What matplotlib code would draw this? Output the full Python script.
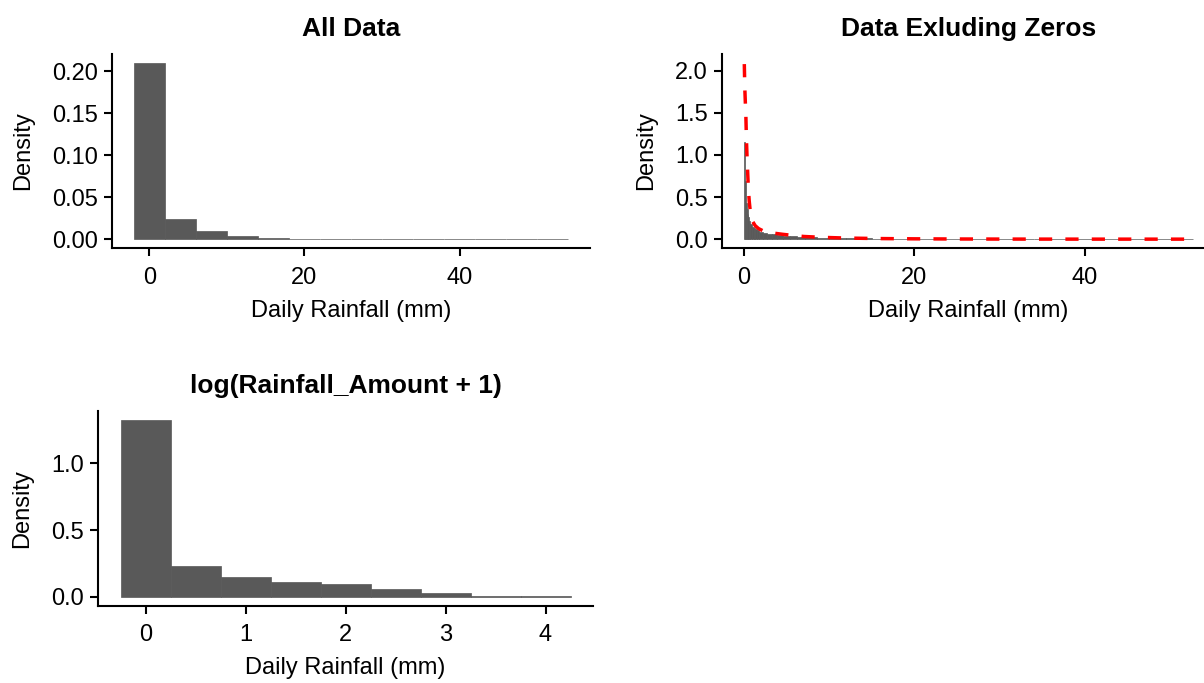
import matplotlib
matplotlib.use("Agg")
import matplotlib.pyplot as plt
from matplotlib.ticker import FormatStrFormatter

plt.rcParams['font.family'] = ['Liberation Sans', 'DejaVu Sans']

# all data, binwidth 4 centred on 0
all_edges = [-2, 2, 6, 10, 14, 18, 22, 26, 30, 34, 38, 42, 46, 50, 54]
all_density = [0.210, 0.0238, 0.0095, 0.0036, 0.0017, 0.0008, 0.0007,
               0.0002, 0.0002, 0.0001, 0.0001, 0.0001, 0.0001, 0.0001]

# rainfall excluding zero days
nz_edges = [0, 0.1, 0.2, 0.3, 0.4, 0.5, 0.6, 0.7, 0.9, 1.1, 1.3, 1.5, 1.8,
            2.2, 2.7, 3.3, 3.9, 4.6, 5.4, 6.2, 7.2, 8.5, 10, 12, 15, 20,
            26, 34, 44, 52.7]
nz_density = [1.16, 0.69, 0.43, 0.36, 0.30, 0.26, 0.22, 0.18, 0.15, 0.135,
              0.12, 0.105, 0.09, 0.078, 0.066, 0.057, 0.05, 0.043, 0.036,
              0.03, 0.024, 0.018, 0.013, 0.009, 0.006, 0.004, 0.002, 0.001,
              0.0005]

# fitted density curve (red dashed)
fit_x = [0.02, 0.08, 0.15, 0.2, 0.27, 0.35, 0.42, 0.5, 0.6, 0.7, 0.8, 1.0,
         1.3, 1.7, 2.2, 2.9, 3.6, 4.5, 5.5, 7.0, 9.0, 12, 16, 20, 25, 30,
         35, 40, 46, 51.8]
fit_y = [2.08, 1.79, 1.60, 1.48, 1.18, 0.95, 0.78, 0.59, 0.45, 0.35, 0.28,
         0.21, 0.16, 0.125, 0.10, 0.087, 0.07, 0.058, 0.047, 0.032, 0.022,
         0.013, 0.007, 0.004, 0.002, 0.001, 0.0006, 0.0003, 0.0002, 0.0001]

# log(rainfall + 1), binwidth 0.5 centred on 0
log_edges = [-0.25, 0.25, 0.75, 1.25, 1.75, 2.25, 2.75, 3.25, 3.75, 4.25]
log_density = [1.328, 0.231, 0.148, 0.110, 0.095, 0.058, 0.028, 0.005, 0.003]

GREY = "#595959"
W, H = 1204, 683


def hist(ax, edges, dens):
    widths = [edges[i + 1] - edges[i] for i in range(len(dens))]
    ax.bar(edges[:-1], dens, width=widths, align="edge", color=GREY,
           edgecolor=GREY, linewidth=0.5)


def style(ax, title, xlim, ylim, xticks, yticks, yfmt):
    ax.set_xlim(*xlim)
    ax.set_ylim(*ylim)
    ax.set_xticks(xticks)
    ax.set_yticks(yticks)
    ax.yaxis.set_major_formatter(FormatStrFormatter(yfmt))
    for s in ["top", "right"]:
        ax.spines[s].set_visible(False)
    for s in ["left", "bottom"]:
        ax.spines[s].set_linewidth(1.5)
    ax.tick_params(length=5.5, width=1.5, labelsize=17, colors="black")
    ax.tick_params(axis="x", pad=8)
    ax.tick_params(axis="y", pad=4.5)
    ax.set_title(title, fontsize=19, fontweight="bold", pad=13)
    ax.set_xlabel("Daily Rainfall (mm)", fontsize=17, labelpad=8)
    ax.set_ylabel("Density", fontsize=17, labelpad=13)


fig = plt.figure(figsize=(W / 100, H / 100), dpi=100)

def box(x0, x1, y0, y1):
    return [x0 / W, 1 - y1 / H, (x1 - x0) / W, (y1 - y0) / H]

ax1 = fig.add_axes(box(112, 590, 54, 248))
hist(ax1, all_edges, all_density)
style(ax1, "All Data", (-4.8, 56.8), (-0.0105, 0.2205), [0, 20, 40],
      [0, 0.05, 0.10, 0.15, 0.20], "%.2f")

ax2 = fig.add_axes(box(722, 1215, 54, 248))
hist(ax2, nz_edges, nz_density)
ax2.plot(fit_x, fit_y, color="red", linewidth=2.5, linestyle=(0, (3.8, 3.8)))
style(ax2, "Data Exluding Zeros", (-2.6, 55.3), (-0.105, 2.2), [0, 20, 40],
      [0, 0.5, 1.0, 1.5, 2.0], "%.1f")

ax3 = fig.add_axes(box(98, 593, 411, 605.5))
hist(ax3, log_edges, log_density)
style(ax3, "log(Rainfall_Amount + 1)", (-0.475, 4.475), (-0.0664, 1.394),
      [0, 1, 2, 3, 4], [0, 0.5, 1.0], "%.1f")

fig.savefig("out.png", dpi=100)
